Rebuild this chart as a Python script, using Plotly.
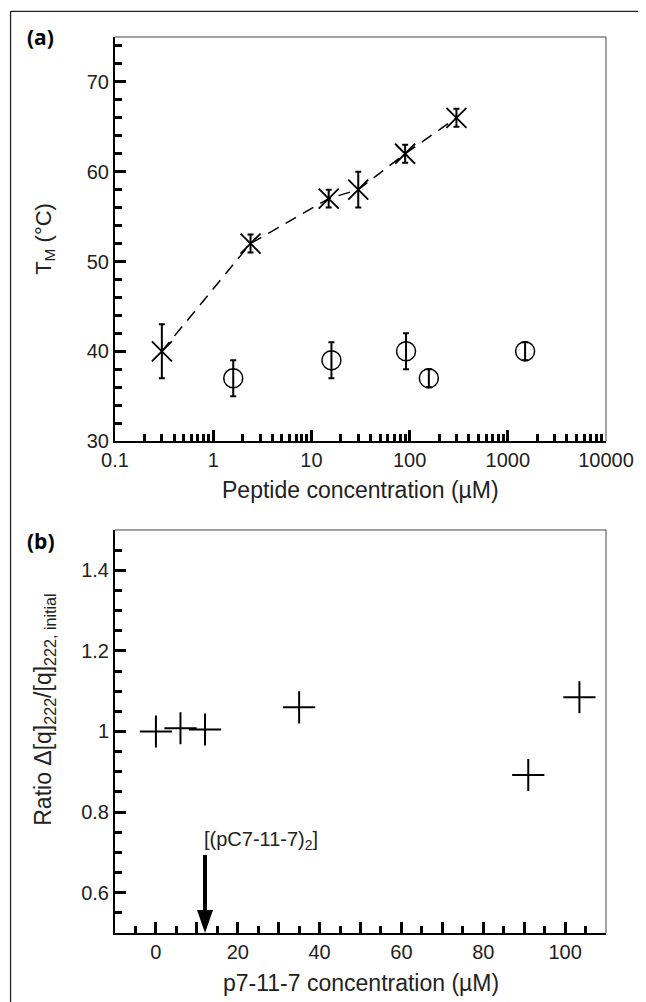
import plotly.graph_objects as go

# ---------------- data ----------------
# Panel (a): melting temperature vs peptide concentration
conc_x = [0.3, 2.4, 15, 30, 90, 300]          # crosses (dashed line)
tm_x = [40, 52, 57, 58, 62, 66]
tm_x_err = [3, 1, 1, 2, 1, 1]

conc_o = [1.6, 16, 92, 157, 1500]              # open circles
tm_o = [37, 39, 40, 37, 40]
tm_o_err = [2, 2, 2, 1, 1]

log_tick_vals = [0.1, 1, 10, 100, 1000, 10000]
log_tick_text = ["0.1", "1", "10", "100", "1000", "10000"]
tm_tick_vals = [30, 40, 50, 60, 70]
tm_tick_text = ["30", "40", "50", "60", "70"]

# Panel (b): ratio vs p7-11-7 concentration
conc_b = [0, 6, 12, 35, 91, 103.5]
ratio_b = [1.0, 1.008, 1.005, 1.06, 0.892, 1.085]

b_x_tick_vals = [0, 10, 20, 30, 40, 50, 60, 70, 80, 90, 100]
b_x_tick_text = ["0", "", "20", "", "40", "", "60", "", "80", "", "100"]
b_y_tick_vals = [0.6, 0.8, 1.0, 1.2, 1.4]
b_y_tick_text = ["0.6", "0.8", "1", "1.2", "1.4"]

dimer_conc = 12   # arrow position [(pC7-11-7)2]

# ---------------- style ----------------
FONT = "Liberation Sans"
TXT = "#222222"
FS = 20

log_minor = [m * 10 ** e for e in range(-1, 4) for m in range(2, 10)]

fig = go.Figure()

fig.add_trace(go.Scatter(
    x=conc_x, y=tm_x, mode="lines+markers",
    line=dict(color="black", width=1.5, dash="12px,8px"),
    marker=dict(symbol="x-thin", size=20, line=dict(color="black", width=1.8)),
    error_y=dict(type="data", array=tm_x_err, visible=True, color="black", thickness=2, width=3),
    xaxis="x", yaxis="y", showlegend=False))

fig.add_trace(go.Scatter(
    x=conc_o, y=tm_o, mode="markers",
    marker=dict(symbol="circle-open", size=19, color="black", line=dict(color="black", width=1.5)),
    error_y=dict(type="data", array=tm_o_err, visible=True, color="black", thickness=2, width=3),
    xaxis="x", yaxis="y", showlegend=False))

fig.add_trace(go.Scatter(
    x=conc_b, y=ratio_b, mode="markers",
    marker=dict(symbol="cross-thin", size=23, line=dict(color="black", width=2)),
    xaxis="x2", yaxis="y2", showlegend=False))

axis_common = dict(
    showline=True, linecolor="black", linewidth=2, mirror=False,
    ticks="inside", ticklen=11, tickwidth=3, tickcolor="black",
    showgrid=False, zeroline=False,
    tickfont=dict(family=FONT, size=FS, color=TXT),
)
minor_common = dict(ticks="inside", ticklen=7, tickwidth=3, tickcolor="black", showgrid=False)

# the page body adds an 8px offset, so the figure is made 8px smaller than the window
fig.update_layout(
    width=638, height=994,
    margin=dict(l=107, r=35, t=29, b=69),
    paper_bgcolor="white", plot_bgcolor="white",
    font=dict(family=FONT, size=FS, color=TXT),
    xaxis=dict(type="log", range=[-1, 4], domain=[0, 1], anchor="y",
               tickmode="array", tickvals=log_tick_vals, ticktext=log_tick_text,
               minor=dict(tickmode="array", tickvals=log_minor, **minor_common),
               **axis_common),
    yaxis=dict(range=[30, 75], domain=[0.549, 1], anchor="x",
               tickmode="array", tickvals=tm_tick_vals, ticktext=tm_tick_text,
               minor=dict(tickmode="linear", tick0=30, dtick=2, **minor_common),
               **axis_common),
    xaxis2=dict(range=[-10, 110], domain=[0, 1], anchor="y2",
                tickmode="array", tickvals=b_x_tick_vals, ticktext=b_x_tick_text,
                minor=dict(tickmode="linear", tick0=-5, dtick=10, **minor_common),
                **axis_common),
    yaxis2=dict(range=[0.5, 1.5], domain=[0, 0.4498], anchor="x2",
                tickmode="array", tickvals=b_y_tick_vals, ticktext=b_y_tick_text,
                minor=dict(tickmode="linear", tick0=0.5, dtick=0.05, **minor_common),
                **axis_common),
)

shapes = []
for xr, yr in (("x domain", "y domain"), ("x2 domain", "y2 domain")):
    shapes.append(dict(type="line", xref=xr, yref=yr, x0=0, x1=1, y0=1, y1=1,
                       line=dict(color="#444444", width=1)))
    shapes.append(dict(type="line", xref=xr, yref=yr, x0=1, x1=1, y0=0, y1=1,
                       line=dict(color="#444444", width=1)))
# outer frame (top and left)
shapes.append(dict(type="line", xref="paper", yref="paper", x0=-0.2127, x1=1.0706, y0=1.0287, y1=1.0287,
                   line=dict(color="#222222", width=1.3)))
shapes.append(dict(type="line", xref="paper", yref="paper", x0=-0.2127, x1=-0.2127, y0=1.0287, y1=-0.077,
                   line=dict(color="#222222", width=1.3)))
# arrow pointing at the dimer concentration
shapes.append(dict(type="line", xref="x2", yref="y2", xsizemode="pixel", xanchor=dimer_conc,
                   ysizemode="pixel", yanchor=0.5, x0=0, x1=0, y0=20, y1=78,
                   line=dict(color="black", width=4)))
shapes.append(dict(type="path", xref="x2", yref="y2", xsizemode="pixel", xanchor=dimer_conc,
                   ysizemode="pixel", yanchor=0.5, path="M-8,23 L8,23 L0,0 Z",
                   fillcolor="black", line=dict(color="black", width=0)))
fig.update_layout(shapes=shapes)

ann = []
ann.append(dict(text="<b>(a)</b>", xref="paper", yref="paper", x=-0.183, y=1.0,
                xanchor="left", yanchor="middle", showarrow=False,
                font=dict(family="Open Sans", size=21, color="black")))
ann.append(dict(text="<b>(b)</b>", xref="paper", yref="paper", x=-0.183, y=0.4375,
                xanchor="left", yanchor="middle", showarrow=False,
                font=dict(family="Open Sans", size=21, color="black")))
ann.append(dict(text="T<sub>M</sub> (°C)", xref="paper", yref="paper", x=-0.143, y=0.7745,
                xanchor="center", yanchor="middle", textangle=-90, showarrow=False,
                font=dict(family=FONT, size=22, color=TXT)))
ann.append(dict(text="Peptide concentration (µM)", xref="paper", yref="paper", x=0.5, y=0.4944,
                xanchor="center", yanchor="middle", showarrow=False,
                font=dict(family=FONT, size=23, color=TXT)))
ann.append(dict(text="Ratio Δ[q]<sub>222</sub>/[q]<sub>222, initial</sub>", xref="paper", yref="paper",
                x=-0.143, y=0.2489, xanchor="center", yanchor="middle", textangle=-90, showarrow=False,
                font=dict(family=FONT, size=23, color=TXT)))
ann.append(dict(text="p7-11-7 concentration (µM)", xref="paper", yref="paper", x=0.5, y=-0.0558,
                xanchor="center", yanchor="middle", showarrow=False,
                font=dict(family=FONT, size=23, color=TXT)))
ann.append(dict(text="[(pC7-11-7)<sub>2</sub>]", xref="x2", yref="y2", x=dimer_conc, y=0.5,
                xanchor="left", yanchor="bottom", yshift=78, xshift=-3, showarrow=False,
                font=dict(family=FONT, size=20, color=TXT)))
fig.update_layout(annotations=ann)

fig.write_html("out.html", config={"displayModeBar": False})
